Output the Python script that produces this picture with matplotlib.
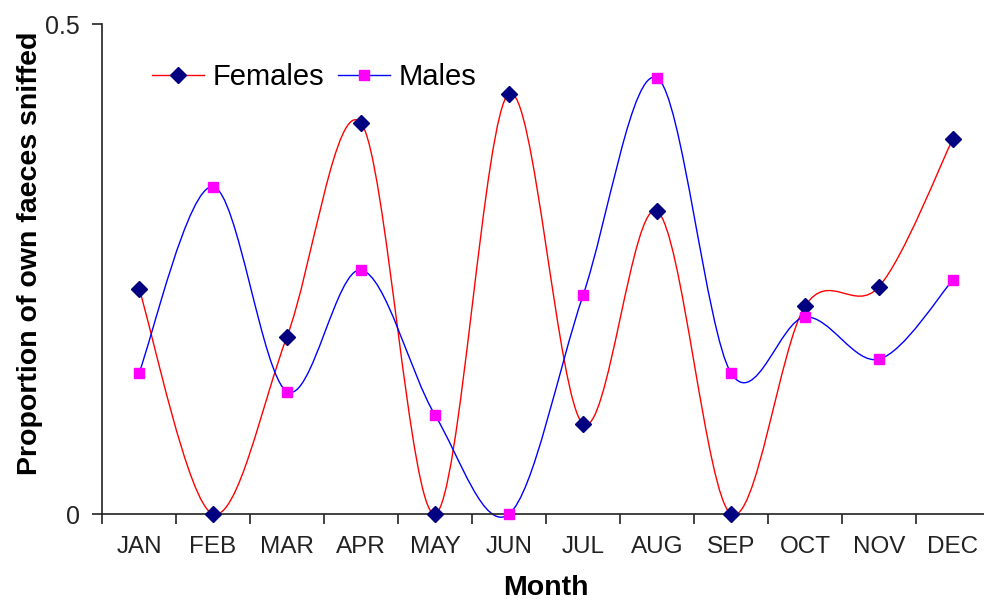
import matplotlib.pyplot as plt
from matplotlib.path import Path
from matplotlib.patches import PathPatch
from matplotlib.lines import Line2D

plt.rcParams['font.family'] = ['Liberation Sans', 'DejaVu Sans']

months = ['JAN', 'FEB', 'MAR', 'APR', 'MAY', 'JUN', 'JUL', 'AUG', 'SEP', 'OCT', 'NOV', 'DEC']
females = [0.230, 0.0, 0.181, 0.399, 0.0, 0.429, 0.092, 0.309, 0.0, 0.212, 0.232, 0.383]
males = [0.144, 0.334, 0.125, 0.249, 0.101, 0.0, 0.223, 0.445, 0.144, 0.201, 0.158, 0.239]


def smooth_path(ys):
    # courbe lissée style Excel (Bezier cubique, tension 1/6)
    pts = list(enumerate(ys))
    verts = [pts[0]]
    codes = [Path.MOVETO]
    n = len(pts)
    for i in range(n - 1):
        p0 = pts[max(i - 1, 0)]
        p1 = pts[i]
        p2 = pts[i + 1]
        p3 = pts[min(i + 2, n - 1)]
        c1 = (p1[0] + (p2[0] - p0[0]) / 6, p1[1] + (p2[1] - p0[1]) / 6)
        c2 = (p2[0] - (p3[0] - p1[0]) / 6, p2[1] - (p3[1] - p1[1]) / 6)
        verts += [c1, c2, p2]
        codes += [Path.CURVE4] * 3
    return Path(verts, codes)


fig = plt.figure(figsize=(9.84, 6.03), dpi=100)
ax = fig.add_axes([102 / 984, 89 / 603, 888 / 984, 490 / 603])

x = range(len(months))
ax.add_patch(PathPatch(smooth_path(females), facecolor='none', edgecolor='#ff0000', lw=1.0, clip_on=False, zorder=2))
ax.add_patch(PathPatch(smooth_path(males), facecolor='none', edgecolor='#0000ff', lw=1.0, clip_on=False, zorder=2))
ax.plot(x, females, linestyle='none', marker='D', ms=7.8, color='#000080', mec='#000080', clip_on=False, zorder=3)
ax.plot(x, males, linestyle='none', marker='s', ms=7.8, color='#ff00ff', mec='#ff00ff', clip_on=False, zorder=3)

ax.set_xlim(-0.5, len(months) - 0.5)
ax.set_ylim(0, 0.5)
ax.set_xticks(list(x))
ax.set_xticklabels(months)
ax.set_xticks([i - 0.5 for i in range(len(months) + 1)], minor=True)
ax.tick_params(axis='x', which='major', length=0, pad=16, labelsize=17.5, colors='#222222')
ax.tick_params(axis='x', which='minor', length=7, width=1.2, color='#222222')
ax.set_yticks([0, 0.5])
ax.set_yticklabels(['0', '0.5'])
ax.tick_params(axis='y', length=7, width=1.2, pad=9, labelsize=18, colors='#222222')

for s in ['top', 'right']:
    ax.spines[s].set_visible(False)
for s in ['left', 'bottom']:
    ax.spines[s].set_linewidth(1.2)
    ax.spines[s].set_color('#222222')

ax.set_xlabel('Month', fontsize=20.5, fontweight='bold', labelpad=12)
ax.set_ylabel('Proportion of own faeces sniffed', fontsize=20.5, fontweight='bold')
ax.yaxis.set_label_coords(-0.066, 0.531)

handles = [
    Line2D([], [], color='#ff0000', lw=1.0, marker='D', ms=7.8, mfc='#000080', mec='#000080'),
    Line2D([], [], color='#0000ff', lw=1.0, marker='s', ms=7.8, mfc='#ff00ff', mec='#ff00ff'),
]
ax.legend(handles, ['Females', 'Males'], loc='center left', bbox_to_anchor=(0.056, 0.892),
          ncol=2, frameon=False, fontsize=21, handlelength=1.8, handletextpad=0.3,
          columnspacing=0.45, borderpad=0, borderaxespad=0)

fig.savefig('out.png', dpi=100)
